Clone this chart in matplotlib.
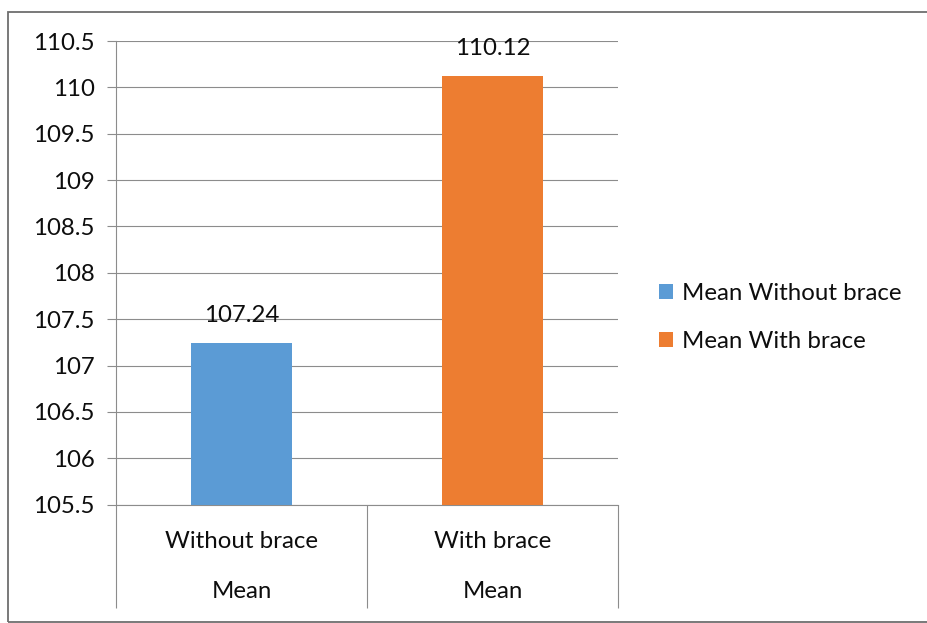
import matplotlib.pyplot as plt
from matplotlib.patches import Patch, Rectangle

# values
categories = ["Without brace", "With brace"]
group_label = "Mean"
means = [107.24, 110.12]
series_names = ["Mean Without brace", "Mean With brace"]
colors = ["#5B9BD5", "#ED7D31"]
y_ticks = [105.5, 106, 106.5, 107, 107.5, 108, 108.5, 109, 109.5, 110, 110.5]

plt.rcParams['font.family'] = ['Lato', 'DejaVu Sans']
grey = '#8c8c8c'
txt = '#0d0d0d'
fs = 17.3

fig = plt.figure(figsize=(9.28, 6.23), dpi=100)
ax = fig.add_axes([116 / 928, (623 - 504.7) / 623, (618 - 116) / 928, (504.7 - 41) / 623])

x = range(len(categories))
ax.bar(x, means, width=0.4, color=colors, zorder=3)
for xi, v in zip(x, means):
    ax.annotate(f"{v:.2f}", (xi, v), xytext=(0, 20), textcoords='offset points',
                ha='center', va='center', fontsize=fs, color=txt)

ax.set_xlim(-0.5, 1.5)
ax.set_ylim(y_ticks[0], y_ticks[-1])
ax.set_yticks(y_ticks)
ax.set_yticklabels([f"{t:g}" for t in y_ticks], fontsize=fs, color=txt)
ax.yaxis.grid(True, color=grey, linewidth=0.8, zorder=0)
ax.tick_params(axis='y', length=6.5, width=0.8, color=grey, pad=9)

# category separators hanging below the axis
ax.set_xticks([])
ax.set_xticks([-0.5, 0.5, 1.5], minor=True)
ax.tick_params(axis='x', which='minor', length=74, width=0.8, color=grey, direction='out')

for s in ['top', 'right']:
    ax.spines[s].set_visible(False)
for s in ['left', 'bottom']:
    ax.spines[s].set_color(grey)
    ax.spines[s].set_linewidth(0.8)

tr = ax.get_xaxis_transform()
for xi, c in zip(x, categories):
    ax.text(xi, -0.0798, c, transform=tr, ha='center', va='center', fontsize=fs, color=txt)
    ax.text(xi, -0.1876, group_label, transform=tr, ha='center', va='center', fontsize=fs, color=txt)

handles = [Patch(facecolor=c, edgecolor='none') for c in colors]
fig.legend(handles, series_names, loc='upper left', bbox_to_anchor=(659 / 928, 1 - 283 / 623),
           frameon=False, fontsize=fs, handlelength=0.58, handleheight=0.58,
           handletextpad=0.37, labelspacing=1.13, borderpad=0, borderaxespad=0,
           labelcolor=txt)

fig.patches.append(Rectangle((8.5 / 928, 1.5 / 623), 1.1, (611 - 1.5) / 623,
                             transform=fig.transFigure, fill=False,
                             edgecolor='#6e6e6e', linewidth=1.3))

fig.savefig('out.png', dpi=100)
